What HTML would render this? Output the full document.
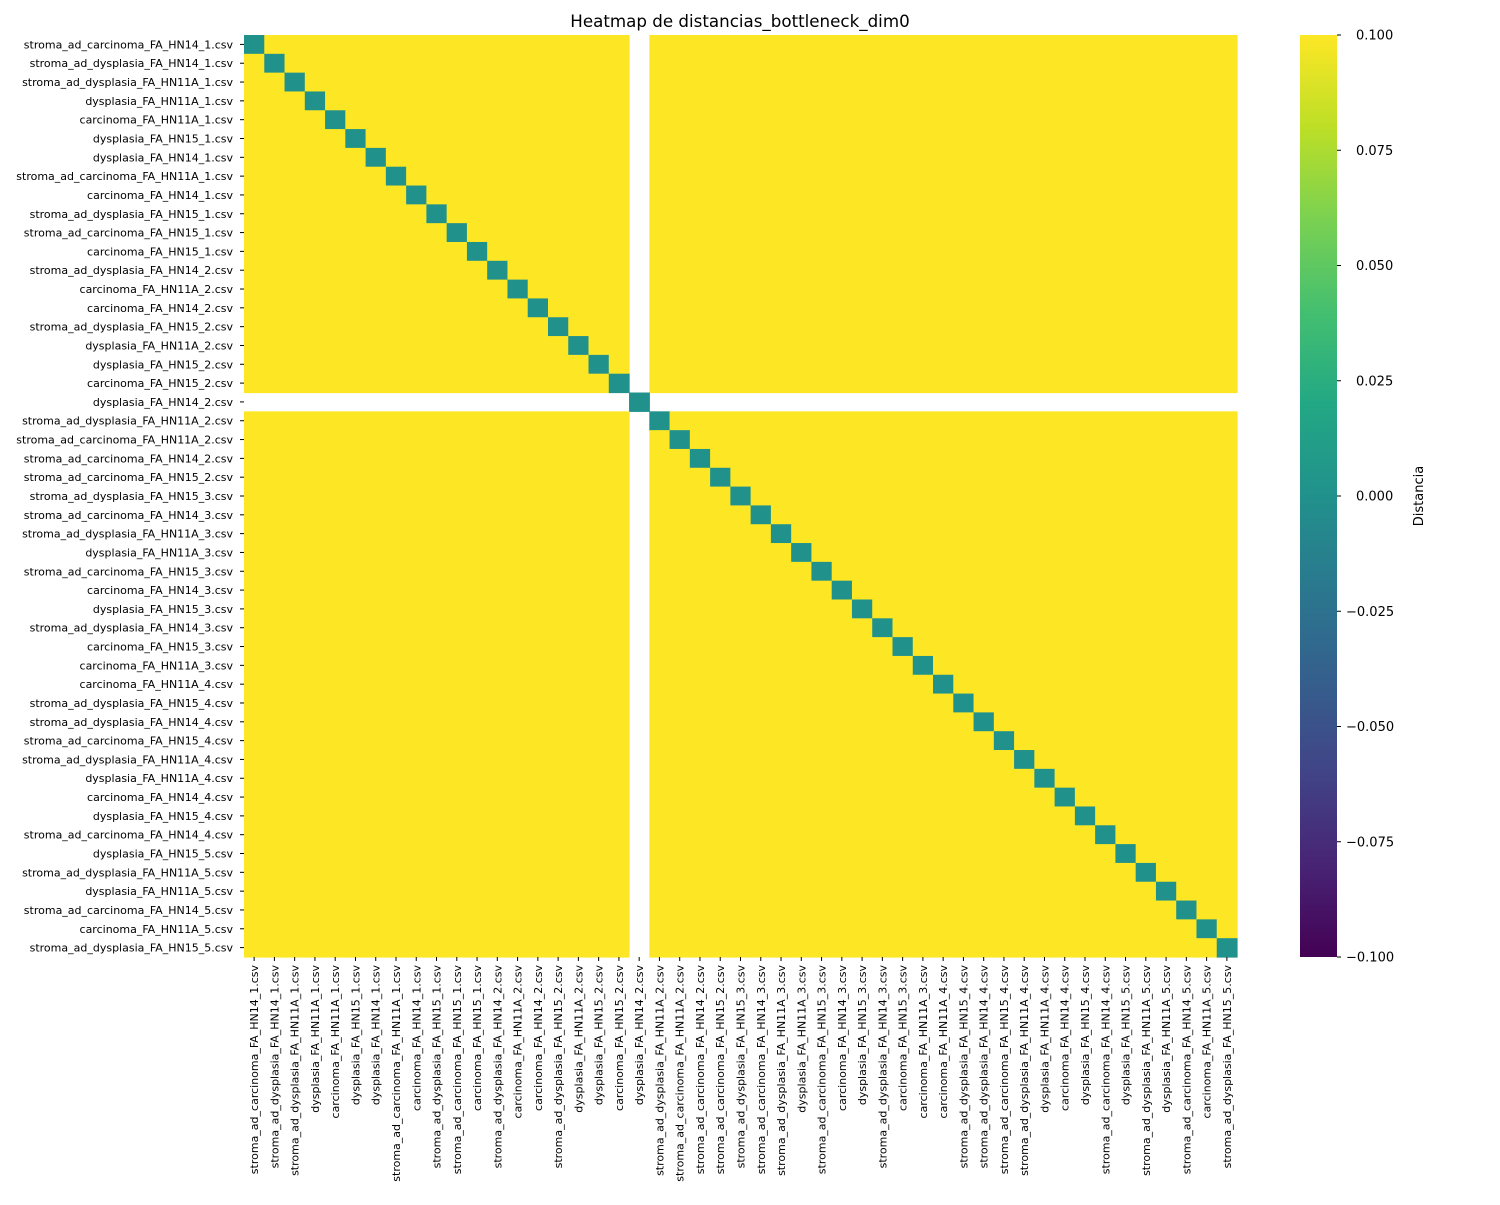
<!DOCTYPE html>
<html><head><meta charset="utf-8"><style>
body{margin:0;background:#fff;}
svg text{font-family:"DejaVu Sans","Liberation Sans",sans-serif;}
</style></head><body>
<svg id="chart" width="1500" height="1200" xmlns="http://www.w3.org/2000/svg">
<defs><linearGradient id="vir" x1="0" y1="1" x2="0" y2="0">
<stop offset="0" stop-color="#440154"/><stop offset="0.1" stop-color="#482475"/><stop offset="0.2" stop-color="#414487"/><stop offset="0.3" stop-color="#355f8d"/><stop offset="0.4" stop-color="#2a788e"/><stop offset="0.5" stop-color="#21918c"/><stop offset="0.6" stop-color="#22a884"/><stop offset="0.7" stop-color="#44bf70"/><stop offset="0.8" stop-color="#7ad151"/><stop offset="0.9" stop-color="#bddf26"/><stop offset="1" stop-color="#fde725"/>
</linearGradient></defs>
<text x="740" y="27" font-size="16.7" text-anchor="middle">Heatmap de distancias_bottleneck_dim0</text>
<g id="cells"></g><g id="ylab"></g><g id="xlab"></g>
<rect x="1300" y="35" width="37" height="922" fill="url(#vir)"/>
<g id="cbticks"></g>
<text font-size="13" transform="translate(1423,496) rotate(-90)" text-anchor="middle">Distancia</text>
</svg>
<script>
const labels=["stroma_ad_carcinoma_FA_HN14_1.csv","stroma_ad_dysplasia_FA_HN14_1.csv","stroma_ad_dysplasia_FA_HN11A_1.csv","dysplasia_FA_HN11A_1.csv","carcinoma_FA_HN11A_1.csv","dysplasia_FA_HN15_1.csv","dysplasia_FA_HN14_1.csv","stroma_ad_carcinoma_FA_HN11A_1.csv","carcinoma_FA_HN14_1.csv","stroma_ad_dysplasia_FA_HN15_1.csv","stroma_ad_carcinoma_FA_HN15_1.csv","carcinoma_FA_HN15_1.csv","stroma_ad_dysplasia_FA_HN14_2.csv","carcinoma_FA_HN11A_2.csv","carcinoma_FA_HN14_2.csv","stroma_ad_dysplasia_FA_HN15_2.csv","dysplasia_FA_HN11A_2.csv","dysplasia_FA_HN15_2.csv","carcinoma_FA_HN15_2.csv","dysplasia_FA_HN14_2.csv","stroma_ad_dysplasia_FA_HN11A_2.csv","stroma_ad_carcinoma_FA_HN11A_2.csv","stroma_ad_carcinoma_FA_HN14_2.csv","stroma_ad_carcinoma_FA_HN15_2.csv","stroma_ad_dysplasia_FA_HN15_3.csv","stroma_ad_carcinoma_FA_HN14_3.csv","stroma_ad_dysplasia_FA_HN11A_3.csv","dysplasia_FA_HN11A_3.csv","stroma_ad_carcinoma_FA_HN15_3.csv","carcinoma_FA_HN14_3.csv","dysplasia_FA_HN15_3.csv","stroma_ad_dysplasia_FA_HN14_3.csv","carcinoma_FA_HN15_3.csv","carcinoma_FA_HN11A_3.csv","carcinoma_FA_HN11A_4.csv","stroma_ad_dysplasia_FA_HN15_4.csv","stroma_ad_dysplasia_FA_HN14_4.csv","stroma_ad_carcinoma_FA_HN15_4.csv","stroma_ad_dysplasia_FA_HN11A_4.csv","dysplasia_FA_HN11A_4.csv","carcinoma_FA_HN14_4.csv","dysplasia_FA_HN15_4.csv","stroma_ad_carcinoma_FA_HN14_4.csv","dysplasia_FA_HN15_5.csv","stroma_ad_dysplasia_FA_HN11A_5.csv","dysplasia_FA_HN11A_5.csv","stroma_ad_carcinoma_FA_HN14_5.csv","carcinoma_FA_HN11A_5.csv","stroma_ad_dysplasia_FA_HN15_5.csv"];
const missingIndex=19;
const offDiagValue=1.0;
const diagValue=0.0;
const cbTicks=[0.1,0.075,0.05,0.025,0,-0.025,-0.05,-0.075,-0.1];
const cbTickLabels=["0.100","0.075","0.050","0.025","0.000","\u22120.025","\u22120.050","\u22120.075","\u22120.100"];
const vmin=-0.1,vmax=0.1;
const X0=244,X1=1237,Y0=35,Y1=957,n=labels.length;
const cw=(X1-X0)/n,ch=(Y1-Y0)/n;
const xs=i=>X0+i*cw, ys=i=>Y0+i*ch;
const cbY=v=>Y1-(v-vmin)/(vmax-vmin)*(Y1-Y0);
const stops=[[0,"#440154"],[0.1,"#482475"],[0.2,"#414487"],[0.3,"#355f8d"],[0.4,"#2a788e"],[0.5,"#21918c"],[0.6,"#22a884"],[0.7,"#44bf70"],[0.8,"#7ad151"],[0.9,"#bddf26"],[1,"#fde725"]];
function color(v){let t=Math.max(0,Math.min(1,(v-vmin)/(vmax-vmin)));let best=stops[0][1],d=9;for(const s of stops){if(Math.abs(s[0]-t)<d){d=Math.abs(s[0]-t);best=s[1];}}return best;}
const NS="http://www.w3.org/2000/svg";
const matrix=labels.map((_,i)=>labels.map((_,j)=>i===j?diagValue:((i===missingIndex||j===missingIndex)?null:offDiagValue)));
const cells=document.getElementById('cells');
for(let i=0;i<n;i++)for(let j=0;j<n;j++){const v=matrix[i][j];if(v===null)continue;
const r=document.createElementNS(NS,'rect');


r.setAttribute('x',xs(j));r.setAttribute('y',ys(i));r.setAttribute('width',cw+0.6);r.setAttribute('height',ch+0.6);r.setAttribute('fill',color(v));cells.appendChild(r);}
const yl=document.getElementById('ylab'),xl=document.getElementById('xlab');
labels.forEach((l,i)=>{
const t=document.createElementNS(NS,'text');


t.setAttribute('x',X0-11);t.setAttribute('y',ys(i)+ch/2+4);t.setAttribute('font-size','11');t.setAttribute('text-anchor','end');t.textContent=l;yl.appendChild(t);
const tk=document.createElementNS(NS,'line');


tk.setAttribute('x1',X0-4);tk.setAttribute('x2',X0);tk.setAttribute('y1',ys(i)+ch/2);tk.setAttribute('y2',ys(i)+ch/2);tk.setAttribute('stroke','#000');yl.appendChild(tk);
const u=document.createElementNS(NS,'text');


const cx=xs(i)+cw/2+4;u.setAttribute('transform','translate('+cx+','+(Y1+8)+') rotate(-90)');u.setAttribute('font-size','11');u.setAttribute('text-anchor','end');u.textContent=l;xl.appendChild(u);
const tx=document.createElementNS(NS,'line');


tx.setAttribute('x1',xs(i)+cw/2);tx.setAttribute('x2',xs(i)+cw/2);tx.setAttribute('y1',Y1);tx.setAttribute('y2',Y1+4);tx.setAttribute('stroke','#000');xl.appendChild(tx);
});
const cb=document.getElementById('cbticks');
cbTicks.forEach((v,k)=>{const y=cbY(v);
const ln=document.createElementNS(NS,'line');


ln.setAttribute('x1',1337);ln.setAttribute('x2',1341);ln.setAttribute('y1',y);ln.setAttribute('y2',y);ln.setAttribute('stroke','#000');cb.appendChild(ln);
const t=document.createElementNS(NS,'text');


t.setAttribute('x',v<0?1346:1356);t.setAttribute('y',y+4.5);t.setAttribute('font-size','13');t.textContent=cbTickLabels[k];cb.appendChild(t);});
</script>
</body></html>
